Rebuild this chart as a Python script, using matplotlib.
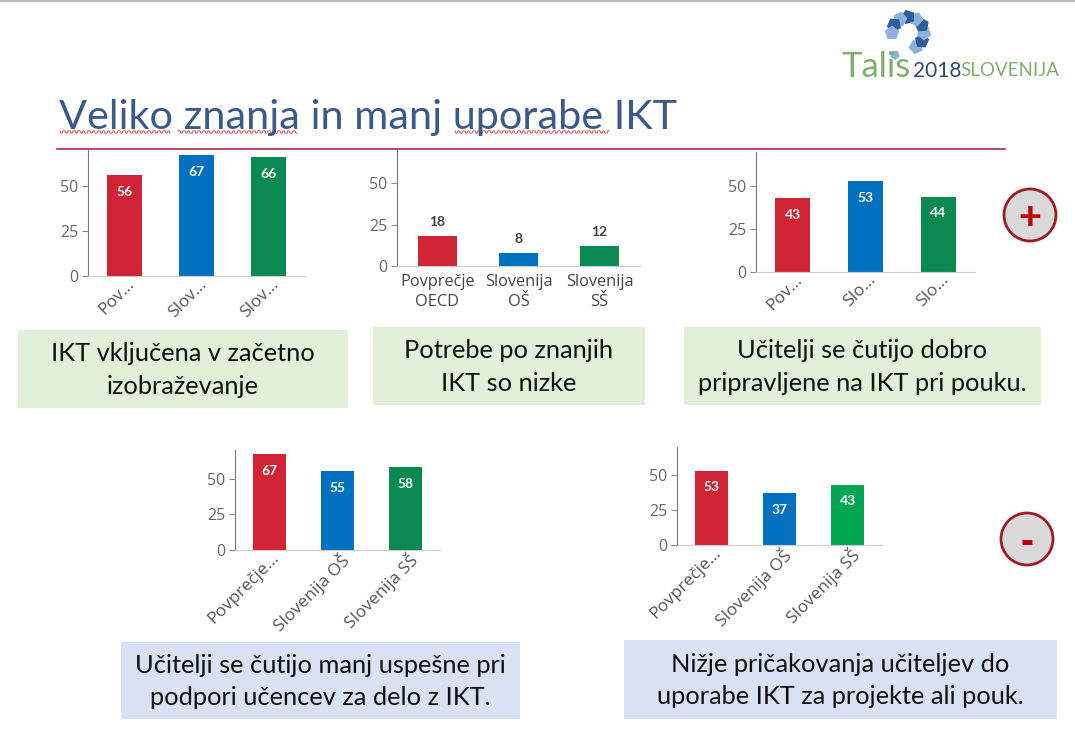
"""Slide with five small bar charts about ICT use (TALIS 2018 Slovenia)."""

import numpy as np
import matplotlib.pyplot as plt
from matplotlib.patches import Circle, Rectangle, RegularPolygon
from matplotlib.transforms import ScaledTranslation

W, H = 1075, 742
BODY_FONT = ["Lato", "DejaVu Sans"]
TICK_FONT = ["Open Sans", "DejaVu Sans"]

RED = "#D12336"
BLUE = "#0070C0"
GREEN = "#0A8A50"
BRIGHT_GREEN = "#00A651"

labels_a = ["Pov…", "Slov…", "Slov…"]
values_a = [56, 67, 66]
labels_b = ["Povprečje\nOECD", "Slovenija\nOŠ", "Slovenija\nSŠ"]
values_b = [18, 8, 12]
labels_c = ["Pov…", "Slo…", "Slo…"]
values_c = [43, 53, 44]
labels_d = ["Povprečje…", "Slovenija OŠ", "Slovenija SŠ"]
values_d = [67, 55, 58]
labels_e = ["Povprečje…", "Slovenija OŠ", "Slovenija SŠ"]
values_e = [53, 37, 43]
y_ticks = [0, 25, 50]


def add_bar_chart(fig, box, labels, values, colors, rotated=True, inside=True):
    """Draw one chart; box is (left, top, right, bottom) in pixels."""
    left, top, right, bottom = box
    ax = fig.add_axes([left / W, 1 - bottom / H, (right - left) / W, (bottom - top) / H])
    ax.patch.set_alpha(0)
    x = np.arange(len(values))
    bars = ax.bar(x, values, width=0.48, color=colors)
    ax.set_xlim(-0.5, 2.5)
    ax.set_ylim(0, 70)
    ax.set_yticks(y_ticks)
    ax.set_xticks(x)
    ax.tick_params(axis="x", length=0, pad=0 if rotated else 6)
    ax.tick_params(axis="y", length=4, width=0.8, color="#888888", pad=3)
    if rotated:
        ax.set_xticklabels(labels, rotation=45, ha="right", rotation_mode="anchor",
                           family=TICK_FONT, fontsize=12.5, color="#555555")
        # labels sit a little to the right of their tick
        shift = ScaledTranslation(2 / 100, 0, fig.dpi_scale_trans)
        for tick in ax.get_xticklabels():
            tick.set_transform(tick.get_transform() + shift)
    else:
        ax.set_xticklabels(labels, family=TICK_FONT, fontsize=11.8, color="#444444",
                           linespacing=1.3)
    for tick in ax.get_yticklabels():
        tick.set_family(TICK_FONT)
        tick.set_fontsize(11.5)
        tick.set_color("#666666")
    for side in ["top", "right"]:
        ax.spines[side].set_visible(False)
    ax.spines["left"].set_color("#777777")
    ax.spines["bottom"].set_color("#cccccc")
    for bar, val in zip(bars, values):
        if inside:
            ax.annotate(str(val), (bar.get_x() + bar.get_width() / 2, val), xytext=(0, -12),
                        textcoords="offset points", ha="center", va="center",
                        color="white", fontsize=10, fontweight="bold", family=BODY_FONT)
        else:
            ax.annotate(str(val), (bar.get_x() + bar.get_width() / 2, val), xytext=(0, 10),
                        textcoords="offset points", ha="center", va="center",
                        color="#404040", fontsize=10, fontweight="bold", family=BODY_FONT)
    return ax


def add_text_box(bg, box, text, color):
    left, top, right, bottom = box
    bg.add_patch(Rectangle((left, top), right - left, bottom - top, color=color, lw=0))
    bg.text((left + right) / 2, (top + bottom) / 2 + 1, text, ha="center", va="center",
            fontsize=18.3, color="#111111", family=BODY_FONT, linespacing=1.5)


def add_squiggle(bg, x0, x1, y):
    xs = np.arange(x0, x1 + 1, 1.0)
    ys = y + 1.2 * np.sign(np.sin(xs * np.pi / 2.5))
    bg.plot(xs, ys, color="#D05050", lw=0.7)


def add_sign(bg, cx, cy, sign):
    bg.add_patch(Circle((cx, cy), 26, facecolor="#D9D9D9", edgecolor="#A01C22", lw=2))
    bg.text(cx, cy + 4, sign, ha="center", va="center", color="#C00000",
            fontsize=28, fontweight="bold", family=["Liberation Sans"])


fig = plt.figure(figsize=(W / 100, H / 100), dpi=100)
bg = fig.add_axes([0, 0, 1, 1])
bg.set_xlim(0, W)
bg.set_ylim(H, 0)
bg.axis("off")

bg.plot([0, W], [0.5, 0.5], color="#BBBBBB", lw=1.5)

# title
bg.text(59, 118, "Veliko znanja in manj uporabe IKT", fontsize=29.8, color="#3B5A8C",
        va="center", ha="left", family=BODY_FONT)
add_squiggle(bg, 60, 170, 132)
add_squiggle(bg, 178, 297, 132)
add_squiggle(bg, 455, 609, 132)
bg.plot([57, 1005], [149, 149], color="#A01C2C", lw=1.1)

# logo
angles = np.radians(np.arange(-60, 206, 30))
for i, ang in enumerate(angles):
    shade = "#2F5C9A" if i % 2 else "#8DB0DC"
    bg.add_patch(RegularPolygon((908 + 16 * np.cos(ang), 33 - 16 * np.sin(ang)), 5, radius=7.5,
                                orientation=ang, color=shade, lw=0))
bg.add_patch(RegularPolygon((895, 55), 5, radius=5, color="#8DB0DC", lw=0))
bg.text(841, 67, "Talis", fontsize=25, color="#7FB069", va="center", family=BODY_FONT)
bg.text(913, 71, "2018", fontsize=15, color="#2F4A70", va="center", family=BODY_FONT)
bg.text(960, 71, "SLOVENIJA", fontsize=13.5, color="#7FB069", va="center", family=BODY_FONT)

# text boxes
add_text_box(bg, (18, 330, 348, 408), "IKT vključena v začetno\nizobraževanje", "#E2F0D9")
add_text_box(bg, (373, 327, 645, 405), "Potrebe po znanjih\nIKT so nizke", "#E2F0D9")
add_text_box(bg, (684, 327, 1041, 405), "Učitelji se čutijo dobro\npripravljene na IKT pri pouku.", "#E2F0D9")
add_text_box(bg, (121, 642, 520, 719), "Učitelji se čutijo manj uspešne pri\npodpori učencev za delo z IKT.", "#D9E2F3")
add_text_box(bg, (624, 640, 1057, 719), "Nižje pričakovanja učiteljev do\nuporabe IKT za projekte ali pouk.", "#D9E2F3")

add_sign(bg, 1030, 215, "+")
add_sign(bg, 1027, 539, "-")

# charts
colors = [RED, BLUE, GREEN]
add_bar_chart(fig, (88, 150, 305, 276), labels_a, values_a, colors)
add_bar_chart(fig, (397, 150, 640, 266), labels_b, values_b, colors, rotated=False, inside=False)
add_bar_chart(fig, (756, 152, 975, 272), labels_c, values_c, colors)
add_bar_chart(fig, (235, 450, 440, 550), labels_d, values_d, colors)
add_bar_chart(fig, (677, 447, 882, 545), labels_e, values_e, [RED, BLUE, BRIGHT_GREEN])

fig.savefig("out.png", dpi=100)
